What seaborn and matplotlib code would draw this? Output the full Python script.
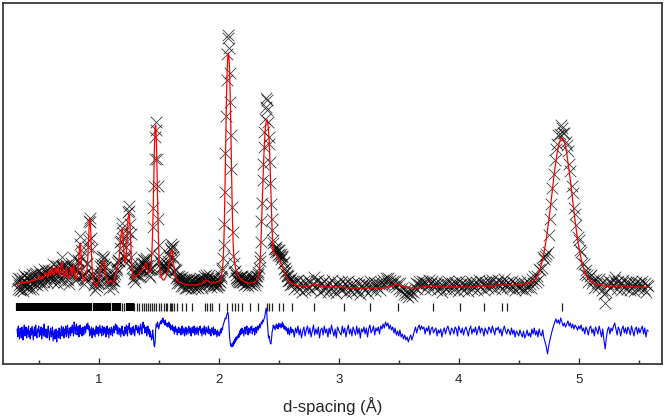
import numpy as np
import pandas as pd
import matplotlib
matplotlib.use("Agg")
import matplotlib.pyplot as plt
import seaborn as sns
from matplotlib.ticker import MultipleLocator

# ---- data (intensity in arbitrary units) ----
seg_start = [0.32, 1.02, 1.72, 2.62, 4.52]
seg_step = [0.005, 0.005, 0.005, 0.01, 0.01]

calc_A = [80, 80, 80, 81, 81, 81, 80, 81, 81, 82,
          81, 81, 82, 82, 81, 82, 82, 83, 82, 82,
          82, 83, 82, 83, 83, 84, 83, 83, 84, 85,
          84, 84, 85, 85, 84, 85, 87, 88, 87, 85,
          85, 86, 88, 86, 86, 87, 89, 91, 90, 91,
          88, 87, 88, 91, 93, 90, 89, 92, 96, 95,
          91, 89, 90, 93, 97, 95, 91, 93, 97, 94,
          90, 89, 91, 96, 101, 102, 98, 91, 88, 87,
          89, 93, 96, 94, 89, 87, 86, 87, 90, 95,
          96, 92, 89, 94, 99, 96, 89, 86, 85, 86,
          88, 92, 98, 107, 117, 121, 116, 104, 93, 87,
          84, 83, 83, 84, 86, 88, 92, 98, 108, 122,
          137, 146, 143, 128, 110, 96, 88, 84, 82, 80,
          79, 78, 78, 79, 80, 82, 85, 88, 91, 94]
calc_B = [97, 100, 102, 103, 103, 102, 98, 93, 89, 86,
          84, 82, 81, 81, 82, 83, 84, 83, 82, 81,
          81, 82, 84, 86, 89, 92, 95, 97, 99, 102,
          106, 112, 120, 128, 133, 135, 133, 124, 112, 104,
          101, 103, 110, 122, 136, 146, 150, 149, 141, 126,
          110, 98, 91, 87, 85, 85, 86, 87, 88, 88,
          89, 89, 90, 90, 91, 92, 93, 93, 94, 95,
          95, 96, 97, 99, 101, 101, 100, 96, 93, 91,
          91, 92, 94, 98, 105, 117, 135, 160, 190, 220,
          237, 239, 226, 200, 168, 138, 116, 102, 94, 90,
          88, 86, 85, 84, 84, 84, 85, 86, 87, 89,
          91, 93, 96, 99, 103, 108, 112, 114, 114, 111,
          106, 100, 95, 91, 88, 86, 85, 84, 83, 83,
          82, 82, 82, 81, 81, 81, 80, 80, 80, 80]
calc_C = [80, 80, 79, 79, 79, 79, 79, 79, 79, 79,
          79, 79, 79, 79, 79, 79, 79, 79, 79, 79,
          79, 79, 79, 80, 80, 80, 80, 80, 80, 81,
          81, 82, 82, 83, 83, 84, 84, 84, 83, 83,
          82, 82, 81, 81, 81, 81, 81, 81, 81, 81,
          81, 81, 82, 82, 82, 82, 83, 83, 84, 85,
          87, 90, 94, 100, 111, 130, 160, 197, 235, 268,
          292, 306, 311, 308, 295, 272, 243, 207, 172, 143,
          122, 110, 104, 100, 96, 94, 92, 90, 89, 88,
          87, 86, 85, 85, 84, 84, 83, 83, 83, 82,
          82, 82, 81, 81, 81, 81, 81, 81, 81, 81,
          81, 81, 81, 81, 81, 82, 82, 82, 83, 84,
          85, 86, 88, 91, 95, 103, 115, 133, 153, 172,
          190, 205, 218, 229, 237, 242, 244, 244, 240, 233,
          224, 210, 192, 172, 152, 134, 121, 114, 111, 110,
          110, 110, 109, 108, 107, 106, 105, 104, 103, 102,
          101, 100, 98, 96, 94, 92, 90, 89, 88, 87,
          86, 85, 84, 83, 82, 82, 81, 81, 80, 80]
calc_D = [80, 80, 79, 79, 78, 78, 78, 78, 78, 78,
          78, 78, 78, 78, 78, 79, 79, 80, 80, 80,
          79, 79, 78, 78, 77, 77, 77, 77, 77, 77,
          77, 77, 77, 77, 77, 77, 77, 77, 77, 77,
          77, 77, 77, 77, 76, 76, 76, 76, 76, 76,
          76, 76, 76, 76, 76, 76, 76, 76, 76, 76,
          76, 76, 76, 76, 76, 76, 76, 76, 76, 76,
          76, 76, 76, 76, 76, 76, 76, 76, 77, 77,
          77, 77, 78, 78, 79, 79, 80, 80, 79, 79,
          78, 78, 77, 77, 77, 77, 77, 77, 76, 76,
          76, 76, 76, 76, 76, 76, 77, 77, 77, 77,
          77, 77, 78, 78, 78, 78, 78, 78, 78, 78,
          78, 78, 77, 77, 77, 77, 77, 77, 77, 77,
          77, 77, 77, 77, 77, 77, 77, 77, 77, 77,
          77, 77, 77, 77, 77, 77, 77, 77, 77, 77,
          77, 77, 77, 77, 78, 78, 78, 78, 78, 78,
          78, 78, 78, 78, 78, 78, 78, 78, 78, 78,
          79, 79, 79, 79, 79, 79, 79, 79, 79, 79,
          79, 79, 79, 79, 79, 79, 79, 79, 80, 80]
calc_E = [80, 80, 80, 80, 80, 81, 81, 81, 81, 82,
          83, 84, 85, 87, 89, 92, 96, 100, 105, 111,
          118, 125, 134, 143, 153, 163, 174, 184, 194, 202,
          211, 217, 222, 225, 226, 225, 222, 217, 211, 202,
          194, 184, 174, 163, 153, 143, 134, 125, 118, 111,
          105, 100, 96, 92, 89, 87, 85, 84, 83, 82,
          81, 80, 80, 79, 79, 79, 79, 79, 79, 78,
          78, 78, 78, 78, 78, 78, 78, 78, 78, 78,
          78, 78, 78, 78, 78, 78, 78, 78, 77, 77,
          77, 77, 77, 77, 77, 77, 77, 77, 77, 77,
          77, 77, 77, 77, 77, 77, 77]

# difference (observed - calculated)
diff_A = [3, -5, 6, -2, -7, 4, 1, -6, 5, -3,
          -8, 2, 7, -4, 0, 5, -6, 3, -2, 6,
          -5, 1, -7, 4, -3, 6, -1, -8, 2, 5,
          -4, 7, -2, -6, 3, 0, 6, -5, 2, -3,
          5, -7, 1, 4, -4, 8, -2, -5, 3, -1,
          -6, 2, 6, -3, -8, 1, 4, -5, -2, 5,
          -9, -3, 2, -7, -4, 3, -10, -2, 1, -6,
          4, -3, -7, 2, 6, -4, 0, 5, -6, 3,
          -2, 6, -5, 1, 7, -3, -6, 4, 2, -4,
          5, -1, 7, 3, -4, 10, 6, -2, 4, 8,
          -3, 2, 6, -5, 3, 7, -2, 4, -4, 1,
          5, -3, 2, 6, -1, 4, 8, 3, 9, 2,
          6, -4, 3, -2, 5, -6, 1, 4, -3, 2,
          -5, 3, 6, -2, 1, 5, -4, 2, 7, -1]
diff_B = [3, -4, 6, 2, -3, 5, -1, 4, -5, 2,
          6, -2, 3, -6, 4, 1, -3, 5, 2, -4,
          3, 6, -1, 4, 8, 2, 7, -2, 5, 1,
          -3, 4, 2, -5, 3, 6, -2, 1, -4, 3,
          5, -2, 7, 1, -4, 6, 3, 9, -1, 4,
          -3, 2, 5, -2, 6, 1, -4, 3, 7, 2,
          4, -1, 6, 3, -3, 5, 8, 2, -2, 6,
          10, 4, 7, -1, 3, 5, -4, 2, 6, -2,
          3, -5, 1, -3, -8, -6, 2, -4, -12, -15,
          -10, 3, 8, 5, 10, 7, 3, 6, 9, 11,
          8, 12, 10, 14, 9, 11, 7, 12, 8, 6,
          9, 5, 7, 10, 4, 8, 2, 6, 3, 7,
          1, 5, -2, 4, 6, 0, 3, -3, 2, 5,
          -1, 4, 2, -3, 3, 6, -2, 1, 4, -4]
diff_C = [2, 5, -3, 4, 1, -2, 6, 3, -1, 4,
          -4, 2, 5, -1, 3, 6, -3, 2, 4, -2,
          5, 1, -3, 4, 2, 6, -1, 3, -4, 2,
          4, -2, 6, 1, -3, 5, 2, -1, 3, 6,
          -2, 3, 1, -4, 4, 2, -1, 5, -3, 2,
          3, -2, 1, -5, 2, -3, 0, -4, -2, 3,
          -1, 4, 2, 6, 8, 10, 12, 14, 13, 16,
          18, 20, 18, 8, -4, -10, -14, -12, -15, -11,
          -14, -9, -12, -7, -10, -5, -8, -4, -6, -2,
          -5, 1, -3, 3, -2, 4, -1, 2, -4, 3,
          5, -2, 3, 6, 1, -3, 4, 2, -1, 5,
          2, 6, -2, 3, 1, 4, -3, 2, 5, -1,
          3, 6, 2, 5, 8, 4, 7, 10, 8, 12,
          10, 12, 14, 16, 20, 24, 20, 10, 2, -6,
          -4, -8, -11, -12, -7, 0, 3, 7, 4, 6,
          2, 5, 8, 4, 7, 3, 9, 6, 5, 8,
          4, 7, 10, 5, 8, 3, 6, 2, 5, 1,
          3, -2, 4, 1, -3, 2, 5, -1, 3, 0]
diff_D = [2, -5, 4, -1, 6, -3, 3, -6, 1, 5,
          -4, 2, 6, -2, 4, -5, 1, 7, -3, 3,
          -2, 5, -6, 2, 4, -3, 6, -1, 3, -5,
          4, -2, 7, 1, -4, 3, -6, 5, 2, -1,
          -3, 6, -1, 4, -5, 2, 7, -2, 3, -4,
          5, 1, -3, 6, -2, 4, -6, 3, 0, 5,
          -2, 4, -5, 3, 7, -1, 2, 6, -3, 4,
          1, 5, -2, 6, 3, 8, 4, 10, 6, 9,
          3, 7, 2, 5, -1, 4, -3, 1, -4, 2,
          -5, -2, -7, -3, -8, -5, -10, -6, -3, -8,
          -4, 1, 5, -1, 4, 7, 2, 6, 3, 5,
          -2, 4, 1, 6, -3, 3, 5, -1, 2, 4,
          -4, 2, -1, 3, -5, 1, 4, -2, 3, 6,
          1, -3, 4, 2, -2, 5, 3, -4, 6, 2,
          -1, 4, -3, 2, 5, 1, -4, 3, 6, -2,
          3, 0, 5, -3, 2, 6, -1, 4, 2, -4,
          4, 1, -2, 5, 3, -1, 6, 2, -3, 4,
          2, 5, -1, 3, -4, 2, 6, 1, -2, 3,
          1, -3, 4, -2, 2, -5, 1, -1, -4, 2]
diff_E = [-2, -5, 1, -6, -3, 2, -4, -1, -5, 3,
          -2, 4, -3, 1, -5, 3, -2, -4, 2, -6,
          -10, -15, -22, -14, -8, -3, 2, 6, 10, 13,
          9, 12, 8, 14, 10, 6, 9, 5, 8, 11,
          6, 9, 4, 8, 3, 7, 5, 2, 6, 3,
          7, 1, 4, -2, 5, 2, -3, 4, 6, -1,
          3, -4, 5, 2, -2, 6, 1, -5, 3, -8,
          -17, -6, 2, 5, -2, 4, 1, 6, 9, 3,
          -3, 5, 2, -4, 3, 6, -1, 4, -2, 5,
          2, -3, 6, 1, -4, 3, 5, -2, 4, -1,
          3, 6, -2, 4, -5, 2, 1]

# reflection positions (d-spacing)
refl_d = [0.320, 0.329, 0.338, 0.347, 0.356, 0.364, 0.373, 0.382, 0.391, 0.400,
          0.409, 0.418, 0.426, 0.435, 0.444, 0.453, 0.462, 0.471, 0.480, 0.488,
          0.497, 0.506, 0.515, 0.524, 0.533, 0.542, 0.550, 0.559, 0.568, 0.577,
          0.586, 0.595, 0.604, 0.612, 0.621, 0.630, 0.639, 0.648, 0.657, 0.666,
          0.674, 0.683, 0.692, 0.701, 0.710, 0.719, 0.728, 0.736, 0.745, 0.754,
          0.763, 0.772, 0.781, 0.790, 0.798, 0.807, 0.816, 0.825, 0.834, 0.843,
          0.852, 0.860, 0.869, 0.878, 0.887, 0.896, 0.905, 0.914, 0.922, 0.931, 0.938,
          0.958, 0.966, 0.975, 0.983, 0.992, 1.001, 1.010, 1.019, 1.028, 1.036, 1.045, 1.051,
          1.069, 1.078, 1.086, 1.093,
          1.123, 1.131, 1.139, 1.147, 1.155, 1.163, 1.171, 1.177,
          1.192, 1.210,
          1.234, 1.242, 1.250, 1.258, 1.266, 1.274, 1.282,
          1.294, 1.317, 1.338, 1.360, 1.380, 1.390, 1.410, 1.430, 1.440, 1.460,
          1.480, 1.500, 1.520, 1.540, 1.560, 1.570, 1.590, 1.600, 1.610, 1.630, 1.650,
          1.690, 1.730, 1.780, 1.886, 1.906, 1.928, 1.942, 2.005,
          2.072, 2.108, 2.136, 2.163, 2.197, 2.261, 2.330, 2.400, 2.422, 2.442,
          2.505, 2.538, 2.608, 2.794, 3.040, 3.261, 3.497, 3.789, 4.011, 4.211,
          4.363, 4.399, 4.858]

x_ticks = [1, 2, 3, 4, 5]
x_label = "d-spacing (Å)"

# ---- assemble table ----
calc_segments = [calc_A, calc_B, calc_C, calc_D, calc_E]
diff_segments = [diff_A, diff_B, diff_C, diff_D, diff_E]
rows = []
for start, step, c, df_ in zip(seg_start, seg_step, calc_segments, diff_segments):
    n = min(len(c), len(df_))
    for i in range(n):
        rows.append((start + step * i, c[i], df_[i]))
data = pd.DataFrame(rows, columns=["d", "calc", "diff"])
data["obs"] = data["calc"] + data["diff"]
diff_offset = 32
data["diff_shown"] = data["diff"] + diff_offset

# ---- plot ----
sns.set_theme(style="white")
plt.rcParams["font.family"] = ["Liberation Sans", "DejaVu Sans"]

fig = plt.figure(figsize=(6.66, 4.19), dpi=100)
ax = fig.add_axes([3 / 666, 55 / 419, 659 / 666, 361 / 419])

sns.scatterplot(data=data, x="d", y="obs", marker="x", s=70, color="black",
                linewidth=0.6, alpha=0.75, ax=ax, legend=False, zorder=2)
sns.lineplot(data=data, x="d", y="calc", color="red", lw=0.9, ax=ax,
             sort=False, estimator=None, zorder=3)
sns.lineplot(data=data, x="d", y="diff_shown", color="#0000ff", lw=0.8, ax=ax,
             sort=False, estimator=None, zorder=3)

# reflection markers: closely packed ones drawn a bit wider so they merge
refl = np.array(refl_d)
gaps = np.minimum(np.r_[np.inf, np.diff(refl)], np.r_[np.diff(refl), np.inf])
dense = gaps < 0.0095
ax.vlines(refl[dense], 53, 61, color="black", lw=1.6, zorder=2)
ax.vlines(refl[~dense], 53, 61, color="#222222", lw=0.9, zorder=2)

ax.set_xlim(0.2025, 5.694)
ax.set_ylim(0, 361)
ax.set_yticks([])
ax.set_ylabel("")
ax.set_xticks(x_ticks)
ax.set_xticklabels([str(t) for t in x_ticks])
ax.xaxis.set_minor_locator(MultipleLocator(0.5))
ax.tick_params(axis="x", which="major", direction="in", length=4.5, width=1.0,
               color="#333333", pad=7, labelsize=9.5, bottom=True, top=False)
ax.tick_params(axis="x", which="minor", direction="in", length=3, width=1.0,
               color="#333333", bottom=True, top=False)
ax.set_xlabel(x_label, fontsize=12, labelpad=8)
for sp in ax.spines.values():
    sp.set_visible(True)
    sp.set_color("#3a3a3a")
    sp.set_linewidth(1.3)

fig.savefig("out.png", dpi=100)
